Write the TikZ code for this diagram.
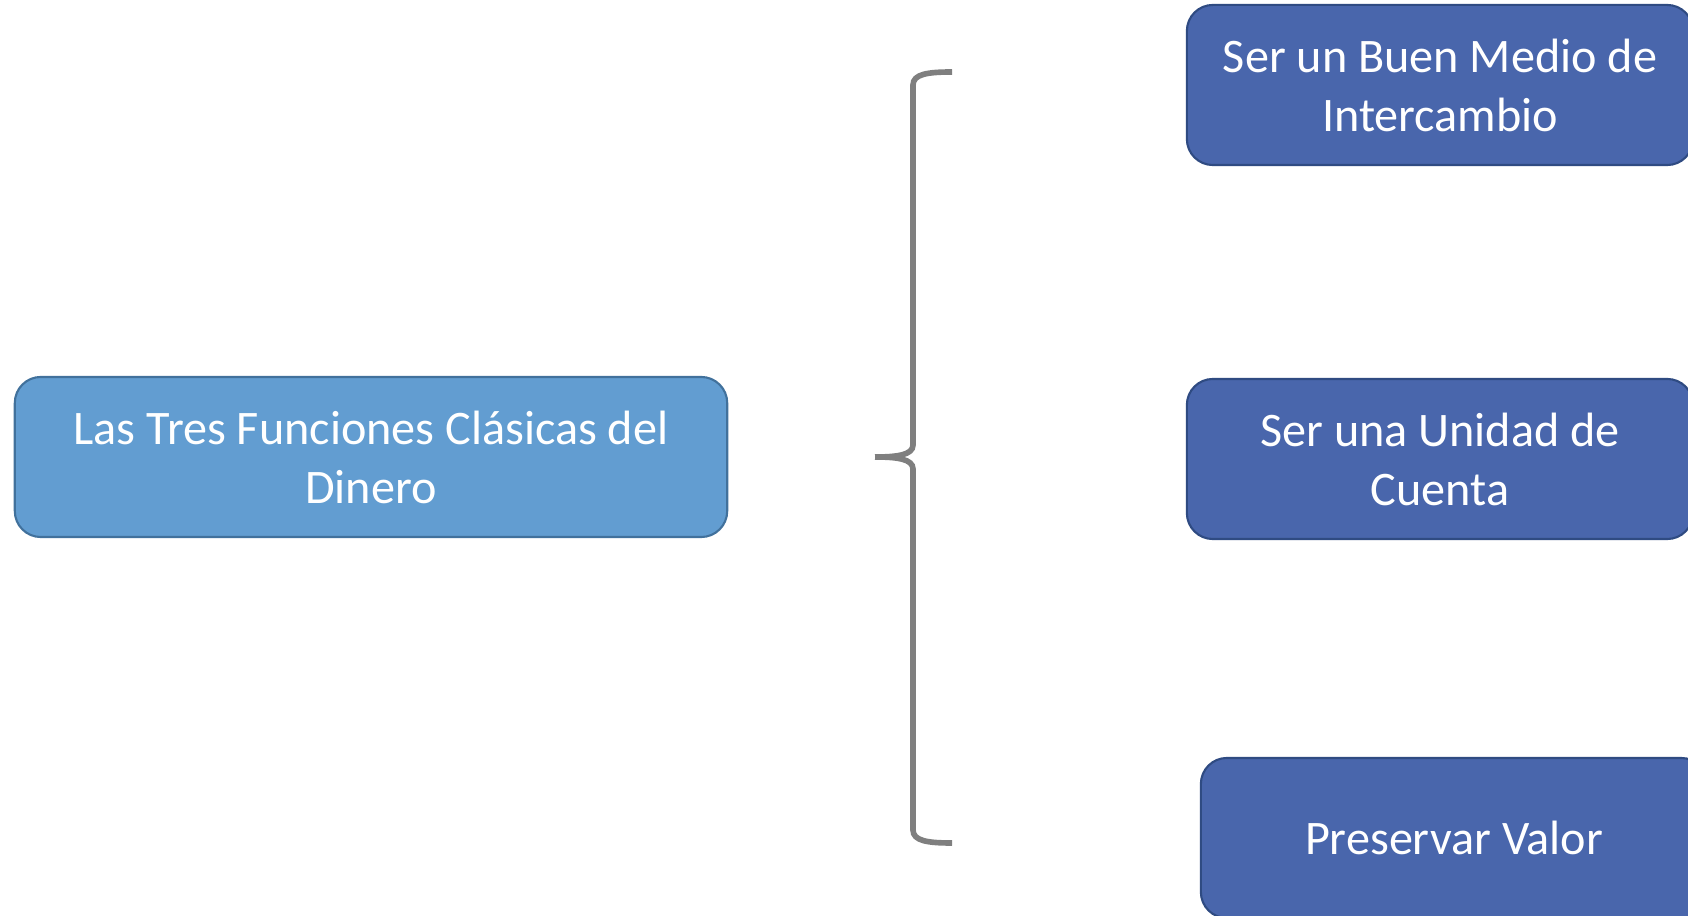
\documentclass[tikz,border=0pt]{standalone}
\usepackage{fontspec}
\setmainfont{Carlito}
\usepackage{tikz}
\definecolor{lightfill}{RGB}{98,157,209}
\definecolor{lightline}{RGB}{65,113,156}
\definecolor{darkfill}{RGB}{73,102,172}
\definecolor{darkline}{RGB}{47,75,130}
\definecolor{bracegray}{RGB}{127,127,127}
\tikzset{
    every node/.style={rounded corners=0.26cm, draw, line width=0.6pt,
    	minimum height=1.6cm, align=center, text=white,
    	font=\fontsize{13.7pt}{16.8pt}\selectfont}
}
\tikzset{titlebox/.style={fill=lightfill, draw=lightline, minimum width=7.12cm}}
\tikzset{funcbox/.style={fill=darkfill, draw=darkline, minimum width=5.06cm}}

\begin{document}
\begin{tikzpicture}[x=0.01cm, y=-0.01cm]
  \useasboundingbox (0,0) rectangle (1688,916);
  \clip (0,0) rectangle (1688,916);

  \node (dinero) [titlebox] at (371,457) {Las Tres Funciones Clásicas del\\Dinero};
  \node (f1) [funcbox] at (1440,85) {Ser un Buen Medio de\\Intercambio};
  \node (f2) [funcbox] at (1440,459) {Ser una Unidad de\\Cuenta};
  \node (f3) [funcbox] at (1454,838) {Preservar Valor};

  % brace
  \draw[bracegray, line width=1.6pt] (952,72) .. controls (928,72) and (913,74) .. (913,85)
    -- (913,445) .. controls (913,455) and (897,457) .. (875,457);
  \draw[bracegray, line width=1.6pt] (875,457) .. controls (897,457) and (913,459) .. (913,469)
    -- (913,830) .. controls (913,841) and (928,843) .. (952,843);

\end{tikzpicture}
\end{document}
